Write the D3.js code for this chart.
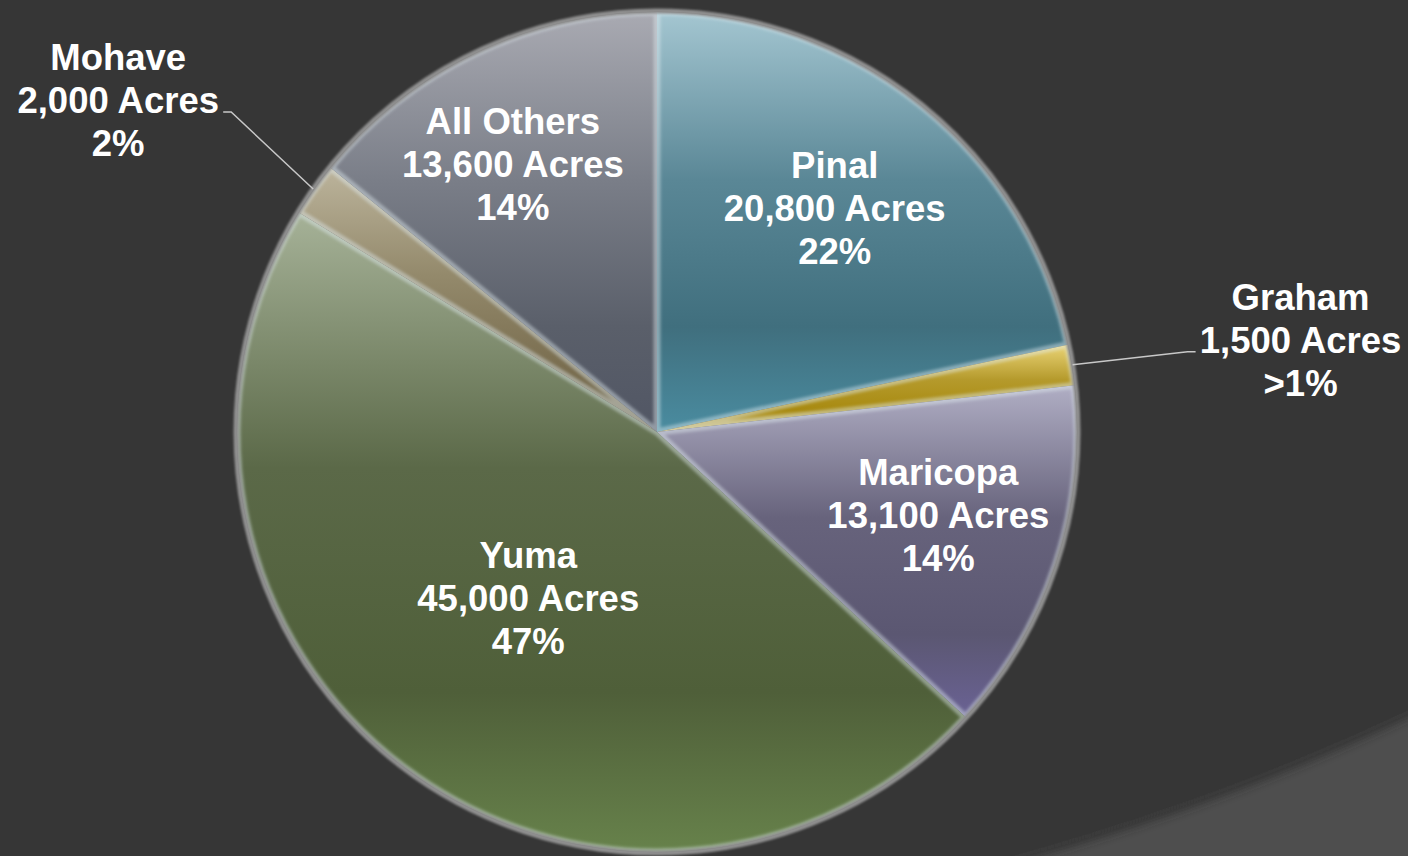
<!DOCTYPE html>
<html>
<head>
<meta charset="utf-8">
<script src="https://cdn.jsdelivr.net/npm/d3@7"></script>
<style>
  body { margin: 0; background: #363636; overflow: hidden; }
  text { font-family: "Liberation Sans", Arial, sans-serif; font-weight: bold; fill: #fff; }
</style>
</head>
<body>
<div id="chart"></div>
<script>
var counties = ['Pinal', 'Graham', 'Maricopa', 'Yuma', 'Mohave', 'All Others'];
var acres = [20800, 1500, 13100, 45000, 2000, 13600];
var shares = ['22%', '>1%', '14%', '47%', '2%', '14%'];

var width = 1408,
    height = 856;

// Settings
var cx = 657,
    cy = 432,
    radius = 420,
    fontSize = 36.5,
    lineGap = 43;

// vertical gradient stops for each slice, top -> bottom
var pallete = [
  ['#a4c6d1', '#5a8796', '#406f7e', '#4a8ca0'],
  ['#ead476', '#b59a2c', '#a88a10', '#cdb86a'],
  ['#b0aec4', '#67637c', '#5b5772', '#6a6294'],
  ['#a6b298', '#5b6948', '#4f5f39', '#67824b'],
  ['#bcb49c', '#948a6c', '#7a6e50', '#6c6246'],
  ['#a9aab2', '#7a7e88', '#5a5f6a', '#515664']
];
// label placement: share of the radius, small nudge, or a leader for the thin slices
var labelRadius = [0.68, null, 0.70, 0.50, null, 0.72];
var labelNudge = [[-2, -2], null, [2, -9], [-2, -1], null, [-14, 5]];
var leaderBend = [null, [115, -13], null, null, [-82, -77], null];

var data = counties.map(function(c, i) {
  return { county: c, acres: acres[i], share: shares[i], i: i };
});

var svg = d3.select('#chart')
  .append('svg')
  .attr('width', width)
  .attr('height', height);

var defs = svg.append('defs');

defs.append('filter').attr('id', 'soft')
  .append('feGaussianBlur').attr('stdDeviation', 1.6);
defs.append('filter').attr('id', 'rim')
  .append('feGaussianBlur').attr('stdDeviation', 1.2);
defs.append('filter').attr('id', 'shade')
  .attr('x', '-10%').attr('y', '-10%').attr('width', '120%').attr('height', '120%')
  .append('feGaussianBlur').attr('stdDeviation', 5);

// background: lighter sweep at the bottom right
svg.append('rect')
  .attr('width', width)
  .attr('height', height)
  .attr('fill', '#4e4e4e');

svg.append('circle')
  .attr('cx', 387).attr('cy', -1451).attr('r', 2392)
  .attr('fill', 'none')
  .attr('stroke', '#262626')
  .attr('stroke-width', 10)
  .attr('opacity', 0.7)
  .attr('filter', 'url(#shade)');

svg.append('circle')
  .attr('cx', 387).attr('cy', -1451).attr('r', 2390)
  .attr('fill', '#363636');

var pie = d3.pie()
  .sort(null)
  .value(function(d) { return d.acres; });

var arc = d3.arc()
  .innerRadius(0)
  .outerRadius(radius);

var arcs = pie(data);

arcs.forEach(function(d, i) {
  var grad = defs.append('linearGradient')
    .attr('id', 'grad' + i)
    .attr('x1', 0).attr('y1', 0).attr('x2', 0).attr('y2', 1);
  var stops = pallete[i];
  [0, 0.4, 0.75, 1].forEach(function(o, k) {
    grad.append('stop').attr('offset', o).attr('stop-color', stops[k]);
  });
  defs.append('clipPath').attr('id', 'clip' + i)
    .append('path').attr('d', arc(d));
});

var g = svg.append('g')
  .attr('transform', 'translate(' + cx + ',' + cy + ')');

g.selectAll('.slice')
  .data(arcs)
  .enter()
  .append('path')
  .attr('class', 'slice')
  .attr('d', arc)
  .attr('fill', function(d, i) { return 'url(#grad' + i + ')'; });

// light bevel along the inner edges of each slice
g.selectAll('.bevel')
  .data(arcs)
  .enter()
  .append('g')
  .attr('clip-path', function(d, i) { return 'url(#clip' + i + ')'; })
  .append('path')
  .attr('d', arc)
  .attr('fill', 'none')
  .attr('stroke', 'rgba(225,235,240,0.45)')
  .attr('stroke-width', 7)
  .attr('filter', 'url(#soft)');

// gray rim round the pie
g.append('circle')
  .attr('r', radius + 1)
  .attr('fill', 'none')
  .attr('stroke', '#8f8f8f')
  .attr('stroke-width', 5)
  .attr('filter', 'url(#rim)');

var fmt = d3.format(',');

var addLabel = function(x, y, d) {
  var t = g.append('text')
    .attr('text-anchor', 'middle')
    .style('font-size', fontSize + 'px');
  [d.data.county, fmt(d.data.acres) + ' Acres', d.data.share].forEach(function(s, k) {
    t.append('tspan')
      .attr('x', x)
      .attr('y', y + (k - 1) * lineGap)
      .text(s);
  });
};

arcs.forEach(function(d, i) {
  var mid = (d.startAngle + d.endAngle) / 2;
  if (labelRadius[i] !== null) {
    var r = radius * labelRadius[i];
    addLabel(Math.sin(mid) * r + labelNudge[i][0], -Math.cos(mid) * r + 13 + labelNudge[i][1], d);
  } else {
    // outside label with a leader line
    var p0 = [Math.sin(mid) * (radius + 1), -Math.cos(mid) * (radius + 1)];
    var p1 = [p0[0] + leaderBend[i][0], p0[1] + leaderBend[i][1]];
    var side = p1[0] > 0 ? 1 : -1;
    var p2 = [p1[0] + side * 8, p1[1]];
    g.append('polyline')
      .attr('points', [p0, p1, p2].join(' '))
      .attr('fill', 'none')
      .attr('stroke', '#c8c8c8')
      .attr('stroke-width', 1.5);
    addLabel(p2[0] + side * 105, p1[1] + 1, d);
  }
});
</script>
</body>
</html>
